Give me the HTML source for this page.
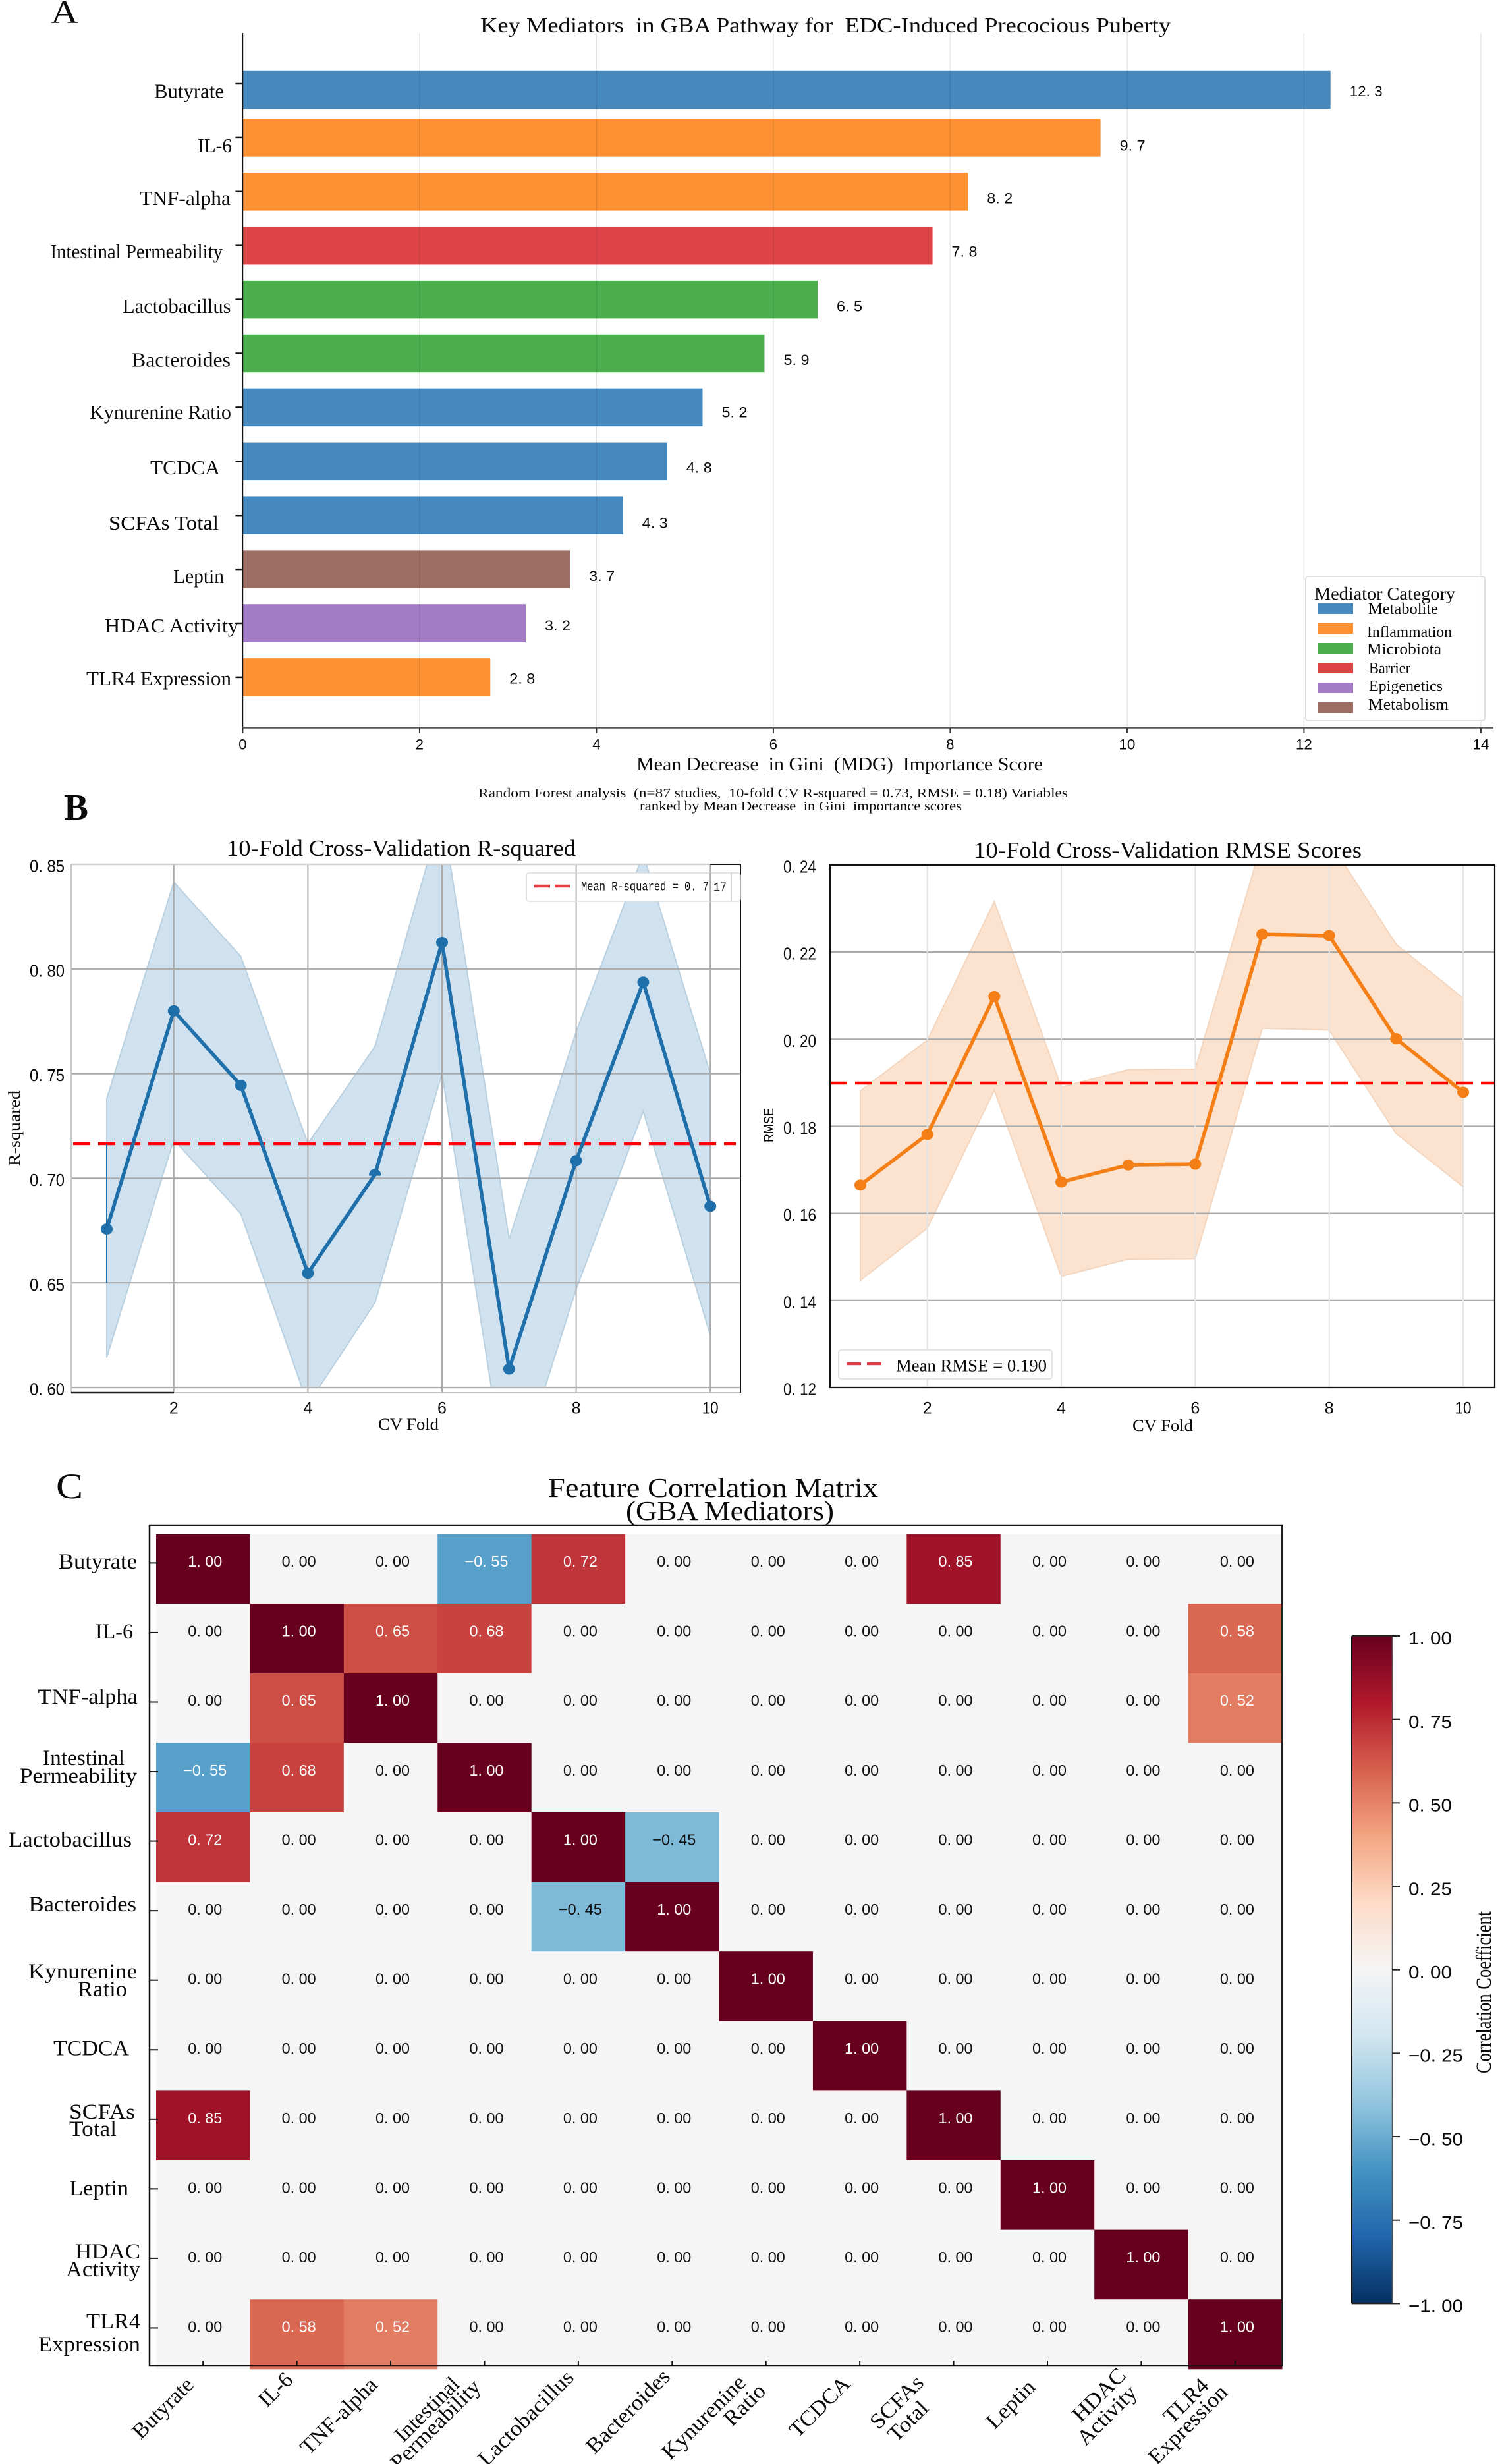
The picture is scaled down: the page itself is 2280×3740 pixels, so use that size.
<!DOCTYPE html>
<html lang="en">
<head>
<meta charset="utf-8">
<title>GBA Pathway Mediators Figure</title>
<style>
html,body{margin:0;padding:0;background:#fff;width:2280px;height:3740px;overflow:hidden}
svg{display:block}
text{white-space:pre;fill:#0a0a0a}
.s{font-family:"Liberation Serif","Noto Serif CJK SC",serif}
.a{font-family:"Liberation Sans","Noto Sans CJK SC",sans-serif}
.m{font-family:"Liberation Mono",monospace}
</style>
</head>
<body>
<svg id="fig" xmlns="http://www.w3.org/2000/svg" width="2280" height="3740" viewBox="0 0 2280 3740">
  <defs id="defs">
    <clipPath id="clip-r2"><rect x="108" y="1312" width="1016" height="794"/></clipPath>
    <clipPath id="clip-rmse"><rect x="1260" y="1313" width="1009" height="793"/></clipPath>
    <linearGradient id="cbar-gradient" x1="0" y1="1" x2="0" y2="0"></linearGradient>
  </defs>

  <!-- Panel letters and titles -->
  <text class="s" x="77" y="35" font-size="50" textLength="42" lengthAdjust="spacingAndGlyphs">A</text>
  <text class="s" x="97" y="1244" font-size="56" font-weight="bold" textLength="37" lengthAdjust="spacingAndGlyphs">B</text>
  <text class="s" x="85" y="2274" font-size="54" textLength="41" lengthAdjust="spacingAndGlyphs">C</text>

  <text class="s" x="729" y="49" font-size="32" textLength="1048" lengthAdjust="spacingAndGlyphs">Key Mediators  in GBA Pathway for  EDC-Induced Precocious Puberty</text>
  <text class="s" x="966" y="1169" font-size="28" textLength="617" lengthAdjust="spacingAndGlyphs">Mean Decrease  in Gini  (MDG)  Importance Score</text>
  <text class="s" x="726" y="1210" font-size="20" textLength="895" lengthAdjust="spacingAndGlyphs">Random Forest analysis  (n=87 studies,  10-fold CV R-squared = 0.73, RMSE = 0.18) Variables</text>
  <text class="s" x="971" y="1230" font-size="20" textLength="489" lengthAdjust="spacingAndGlyphs">ranked by Mean Decrease  in Gini  importance scores</text>

  <text class="s" x="344" y="1299" font-size="35" textLength="530" lengthAdjust="spacingAndGlyphs">10-Fold Cross-Validation R-squared</text>
  <text class="s" x="574" y="2170" font-size="25" textLength="92" lengthAdjust="spacingAndGlyphs">CV Fold</text>
  <text class="s" transform="rotate(-90 30 1770)" x="30" y="1770" font-size="25" textLength="115" lengthAdjust="spacingAndGlyphs">R-squared</text>

  <text class="s" x="1478" y="1302" font-size="35" textLength="589" lengthAdjust="spacingAndGlyphs">10-Fold Cross-Validation RMSE Scores</text>
  <text class="s" x="1719" y="2172" font-size="25" textLength="92" lengthAdjust="spacingAndGlyphs">CV Fold</text>
  <text class="a" transform="rotate(-90 1174 1734)" x="1174" y="1734" font-size="21" textLength="52" lengthAdjust="spacingAndGlyphs">RMSE</text>

  <text class="s" x="832" y="2272" font-size="41" textLength="501" lengthAdjust="spacingAndGlyphs">Feature Correlation Matrix</text>
  <text class="s" x="950" y="2307" font-size="41" textLength="316" lengthAdjust="spacingAndGlyphs">(GBA Mediators)</text>
  <text class="s" transform="rotate(-90 2263 3147)" x="2263" y="3147" font-size="33" textLength="246" lengthAdjust="spacingAndGlyphs">Correlation Coefficient</text>

  <g id="panel-a"></g>
  <g id="legend-a">
    <rect x="1982" y="875" width="272" height="219" rx="4" fill="#fff" fill-opacity=".85" stroke="#ddd" stroke-width="2"/>
    <text class="s" x="1995" y="910" font-size="27" textLength="214" lengthAdjust="spacingAndGlyphs">Mediator Category</text>
    <rect x="2000" y="916" width="54" height="16" fill="#4689bf"/>
    <text class="s" x="2077" y="932" font-size="24" textLength="106" lengthAdjust="spacingAndGlyphs">Metabolite</text>
    <rect x="2000" y="946" width="54" height="16" fill="#fe9133"/>
    <text class="s" x="2075" y="967" font-size="24" textLength="129" lengthAdjust="spacingAndGlyphs">Inflammation</text>
    <rect x="2000" y="976" width="54" height="16" fill="#4cae4f"/>
    <text class="s" x="2075" y="993" font-size="24" textLength="113" lengthAdjust="spacingAndGlyphs">Microbiota</text>
    <rect x="2000" y="1006" width="54" height="16" fill="#dc4448"/>
    <text class="s" x="2078" y="1022" font-size="24" textLength="63" lengthAdjust="spacingAndGlyphs">Barrier</text>
    <rect x="2000" y="1036" width="54" height="16" fill="#a37cc5"/>
    <text class="s" x="2078" y="1049" font-size="24" textLength="112" lengthAdjust="spacingAndGlyphs">Epigenetics</text>
    <rect x="2000" y="1066" width="54" height="16" fill="#9d6e64"/>
    <text class="s" x="2077" y="1077" font-size="24" textLength="122" lengthAdjust="spacingAndGlyphs">Metabolism</text>
  </g>

  <g id="panel-r2"></g>
  <g id="panel-rmse"></g>
  <g id="panel-heat"></g>
  <g id="panel-cbar"></g>
</svg>

<script>
/* ---------- Panel A data ---------- */
const aCategories = ["Butyrate","IL-6","TNF-alpha","Intestinal Permeability","Lactobacillus","Bacteroides","Kynurenine Ratio","TCDCA","SCFAs Total","Leptin","HDAC Activity","TLR4 Expression"];
const aValues = [12.3,9.7,8.2,7.8,6.5,5.9,5.2,4.8,4.3,3.7,3.2,2.8];
const aGroups = ["Metabolite","Inflammation","Inflammation","Barrier","Microbiota","Microbiota","Metabolite","Metabolite","Metabolite","Metabolism","Epigenetics","Inflammation"];
const aXTicks = [0,2,4,6,8,10,12,14];

/* ---------- Panel B data ---------- */
const folds = [1,2,3,4,5,6,7,8,9,10];
const r2Mean = [0.6757,0.78,0.7444,0.6546,0.7018,0.8127,0.6088,0.7084,0.7937,0.6866];
const r2Upper = [0.738,0.8415,0.806,0.7165,0.763,0.875,0.671,0.77,0.855,0.75];
const r2Lower = [0.6143,0.7185,0.683,0.592,0.6405,0.75,0.546,0.647,0.732,0.625];
const r2MeanLine = 0.7165;
const r2YTicks = [0.60,0.65,0.70,0.75,0.80,0.85];
const rmseMean = [0.1665,0.1781,0.2098,0.1672,0.1711,0.1713,0.2241,0.2238,0.2001,0.1878];
const rmseUpper = [0.1881,0.1998,0.2316,0.189,0.193,0.1931,0.2455,0.2455,0.2218,0.2094];
const rmseLower = [0.1446,0.1566,0.1883,0.1455,0.1495,0.1496,0.2025,0.2021,0.1783,0.1661];
const rmseMeanLine = 0.1899;
const rmseYTicks = [0.12,0.14,0.16,0.18,0.20,0.22,0.24];
const foldTicks = [2,4,6,8,10];

/* ---------- Panel C data ---------- */
const heatRows = ["Butyrate","IL-6","TNF-alpha","Intestinal Permeability","Lactobacillus","Bacteroides","Kynurenine Ratio","TCDCA","SCFAs Total","Leptin","HDAC Activity","TLR4 Expression"];
const heatValues = [
  [1,0,0,-0.55,0.72,0,0,0,0.85,0,0,0],
  [0,1,0.65,0.68,0,0,0,0,0,0,0,0.58],
  [0,0.65,1,0,0,0,0,0,0,0,0,0.52],
  [-0.55,0.68,0,1,0,0,0,0,0,0,0,0],
  [0.72,0,0,0,1,-0.45,0,0,0,0,0,0],
  [0,0,0,0,-0.45,1,0,0,0,0,0,0],
  [0,0,0,0,0,0,1,0,0,0,0,0],
  [0,0,0,0,0,0,0,1,0,0,0,0],
  [0.85,0,0,0,0,0,0,0,1,0,0,0],
  [0,0,0,0,0,0,0,0,0,1,0,0],
  [0,0,0,0,0,0,0,0,0,0,1,0],
  [0,0.58,0.52,0,0,0,0,0,0,0,0,1]
];
const cbarTicks = [-1,-0.75,-0.5,-0.25,0,0.25,0.5,0.75,1];
const cmapValues = [-1,-0.8,-0.6,-0.4,-0.2,0,0.2,0.4,0.6,0.8,1];
const cmapColors = ["#053061","#2166ac","#4393c3","#92c5de","#d1e5f0","#f5f5f5","#fddbc7","#f4a582","#d6604d","#b2182b","#67001f"];

/* ---------- Label placement (text only, not marks) ---------- */
const groupFill = {Metabolite:"#4689bf",Inflammation:"#fe9133",Microbiota:"#4cae4f",Barrier:"#dc4448",Epigenetics:"#a37cc5",Metabolism:"#9d6e64"};
const aLabelBox = [[234,340,138.5],[300,352,221],[212,350,301],[76.5,338,382],[186,350.5,465],[200,350,546.5],[136,351,626],[228,334,710],[165,332,794],[263,340,874.6],[159,362,949.6],[131,351,1030]];
const heatRowLabelBox = [
  [[89,208,2370]],[[145,202,2476]],[[57.5,209,2575]],
  [[65,189,2668],[30,208,2695]],[[13,200,2792]],[[43.5,207,2890]],
  [[43,208,2992],[118,193,3019]],[[81,196,3108.5]],
  [[105,205,3205],[105,177,3231]],[[105,195,3321]],
  [[114,213,3417],[100,213,3444]],[[131,213,3523],[58,213,3558]]
];
const heatColLabelBox = [
  [[247,3655,116]],[[418,3627,58]],[[514,3667,150]],
  [[648,3657,124],[661,3680,178]],[[798,3670,190]],[[953,3660,165]],
  [[1068,3669,165],[1130,3650,75]],[[1244,3653,115]],
  [[1361,3646,100],[1378,3675,72]],[[1534,3649,90]],
  [[1668,3635,100],[1680,3666,113]],[[1800,3644,82],[1803,3680,155]]
];

/* ---------- Helpers ---------- */
const NS = "http://www.w3.org/2000/svg";
function mk(tag, attrs, parent){
  const n = document.createElementNS(NS, tag);
  for (const k in attrs) n.setAttribute(k, attrs[k]);
  parent.appendChild(n);
  return n;
}
function line(parent, name, x1, y1, x2, y2, stroke, w, extra){
  const el = mk("line", Object.assign({x1:x1,y1:y1,x2:x2,y2:y2,stroke:stroke,"stroke-width":w}, extra||{}), parent);
  
  
  return el;
}
function label(parent, name, str, x, cy, size, cls, width, opts){
  const o = opts || {};
  const attrs = {x:x, y:cy + size*0.33, "font-size":size, class:cls};
  if (width){ attrs.textLength = width; attrs.lengthAdjust = "spacingAndGlyphs"; }
  if (o.anchor) attrs["text-anchor"] = o.anchor;
  if (o.fill) attrs.style = "fill:" + o.fill;
  if (o.rotate !== undefined){
    attrs.transform = "rotate(" + o.rotate + " " + x + " " + cy + ")";
  }
  const el = mk("text", attrs, parent);
  
  
  el.textContent = str;
  return el;
}
function fmt(v, digits){
  const s = Math.abs(v).toFixed(digits).replace(".", ". ");
  return (v < 0 ? "\u2212" : "") + s;
}
function hexRgb(h){ return [parseInt(h.slice(1,3),16),parseInt(h.slice(3,5),16),parseInt(h.slice(5,7),16)]; }
function cmap(v){
  for (let i = 0; i < cmapValues.length-1; i++){
    if (v <= cmapValues[i+1]){
      const t = (v-cmapValues[i])/(cmapValues[i+1]-cmapValues[i]);
      const a = hexRgb(cmapColors[i]), b = hexRgb(cmapColors[i+1]);
      return "rgb(" + a.map((c,j)=>Math.round(c+(b[j]-c)*t)).join(",") + ")";
    }
  }
  return cmapColors[cmapColors.length-1];
}

/* ---------- Panel A ---------- */
(function(){
  const g = document.getElementById("panel-a");
  const xA = v => 368.4 + 134.25*v;
  const yA = i => 127 + 81.9*i;
  const barH = 57.5;
  aValues.forEach((v,i)=>{
    const nudge = i === 0 ? 9.5 : 0;
    const bar = mk("rect",{x:xA(0),y:yA(i)-barH/2+nudge,width:xA(v)-xA(0),height:barH,fill:groupFill[aGroups[i]]},g);
    
    
    const box = aLabelBox[i];
    label(g,'value-label-' + (i+1),fmt(v,1),xA(v)+29,box[2],22,"a",i===0?50:39);
    label(g,'category-label-' + (i+1),aCategories[i],box[0],box[2],31,"s",box[1]-box[0]);
    line(g,'y-tick-' + (i+1),xA(0)-11,yA(i),xA(0),yA(i),"#111",2.5);
  });
  aXTicks.forEach(t=>{
    if (t > 0) line(g,'x-gridline-' + t,xA(t),50,xA(t),1104,"#000",1.5,{"stroke-opacity":".1"});
    line(g,'x-tick-' + t,xA(t),1104,xA(t),1113,"#333",2);
    label(g,'x-tick-label-' + t,String(t),xA(t),1130,22,"a",t>=10?25:0,{anchor:"middle"});
  });
  line(g,'y-axis-line',xA(0),50,xA(0),1105,"#111",1.6);
  line(g,'x-axis-line',xA(0),1104.5,2267,1104.5,"#555",2.5);
})();

/* ---------- Panel B helper ---------- */
function drawLinePanel(cfg){
  const g = cfg.g, x = cfg.x, y = cfg.y;
  const pts = cfg.upper.map((v,i)=>x(folds[i])+","+y(v));
  const low = cfg.lower.map((v,i)=>x(folds[i])+","+y(v)).reverse();
  const band = mk("polygon",{points:pts.concat(low).join(" "),fill:cfg.bandFill,stroke:cfg.bandEdge,"stroke-width":2,"clip-path":"url(#"+cfg.clip+")"},g);
  
  
  cfg.yTicks.forEach(t=>{
    line(g,cfg.prefix + '-h-grid-' + t.toFixed(2),cfg.left,y(t),cfg.right,y(t),"#aaaaaa",2.2);
    label(g,cfg.prefix + '-y-tick-label-' + t.toFixed(2),fmt(t,2),cfg.tickX,y(t)+3,26,"a",cfg.tickW);
  });
  foldTicks.forEach(t=>{
    line(g,cfg.prefix + '-v-grid-' + t,x(t),cfg.top,x(t),cfg.bottom,cfg.vGrid,cfg.vGridW);
    label(g,cfg.prefix + '-x-tick-label-' + t,String(t),x(t),2137,25,"a",t===10?25:0,{anchor:"middle"});
  });
  const mean = mk("line",{x1:cfg.meanX1,x2:cfg.meanX2,y1:y(cfg.meanLine),y2:y(cfg.meanLine),stroke:"#f00","stroke-width":4.5,"stroke-dasharray":"26 12"},g);
  
  
  const path = mk("polyline",{points:cfg.mean.map((v,i)=>x(folds[i])+","+y(v)).join(" "),fill:"none",stroke:cfg.color,"stroke-width":5.5,"stroke-linejoin":"round"},g);
  
  
  cfg.mean.forEach((v,i)=>{
    const c = mk("ellipse",{cx:x(folds[i]),cy:y(v),rx:9,ry:8.5,fill:cfg.color},g);
    
    
    if (folds[i] === cfg.clippedFold){
      const cp = mk("clipPath",{id:cfg.prefix + "-clipped-point"},document.getElementById("defs"));
      mk("rect",{x:x(folds[i])-12,y:y(v)-10,width:24,height:12},cp);
      c.setAttribute("clip-path","url(#" + cfg.prefix + "-clipped-point)");
    }
  });
}

/* ---------- Panel B left ---------- */
(function(){
  const g = document.getElementById("panel-r2");
  const x = f => 162 + 101.8*(f-1);
  const y = v => 2106 - (v-0.6)*3176;
  drawLinePanel({g:g,x:x,y:y,prefix:"r2",left:108,right:1124,top:1312,bottom:2114,
    upper:r2Upper,lower:r2Lower,mean:r2Mean,meanLine:r2MeanLine,yTicks:r2YTicks,
    color:"#1f6fab",bandFill:"#d0e2ef",bandEdge:"#b9d0e0",clip:"clip-r2",clippedFold:5,
    vGrid:"#aaaaaa",vGridW:2,tickX:45,tickW:53,meanX1:111,meanX2:1117});
  line(g,'r2-left-spine',108,1312,108,2114,"#c8c8c8",2);
  line(g,'r2-top-spine',108,1312,1078,1312,"#cfcfcf",2);
  line(g,'r2-top-spine-dark',1078,1312,1124,1312,"#111",2);
  line(g,'r2-bottom-spine-dark',108,2114,264,2114,"#222",2.5);
  line(g,'r2-bottom-spine',264,2114,1124,2114,"#c4c4c4",2);
  line(g,'r2-right-spine',1124,1312,1124,2114,"#111",2);
  line(g,'r2-fold-1-whisker',x(1),y(r2MeanLine),x(1),y(0.65),"#1f6fab",2);
  const box = mk("rect",{x:799,y:1325,width:325,height:43,rx:4,fill:"#fff",stroke:"#dcdcdc","stroke-width":1.5},g);
  
  
  line(g,'r2-legend-grid-8',x(8),1325,x(8),1368,"#aaaaaa",2);
  line(g,'r2-legend-grid-10',x(10),1325,x(10),1368,"#aaaaaa",2);
  line(g,'r2-legend-inner-edge',1110,1325,1110,1368,"#c8c8c8",1.5);
  line(g,'r2-legend-swatch',811,1345,865,1345,"#e0404a",4.5,{"stroke-dasharray":"24 7"});
  label(g,'r2-legend-label',"Mean R-squared = 0. 7",882,1345,19,"m",194);
  label(g,'r2-legend-label-end',"17",1083,1346,19,"m",20);
})();

/* ---------- Panel B right ---------- */
(function(){
  const g = document.getElementById("panel-rmse");
  const x = f => 1306 + 101.67*(f-1);
  const y = v => 1313 + (0.24-v)*6608;
  drawLinePanel({g:g,x:x,y:y,prefix:"rmse",left:1260,right:2269,top:1313,bottom:2106,
    upper:rmseUpper,lower:rmseLower,mean:rmseMean,meanLine:rmseMeanLine,yTicks:rmseYTicks,
    color:"#f47f17",bandFill:"#fce3d0",bandEdge:"#f3d6bf",clip:"clip-rmse",
    vGrid:"#e4e4e4",vGridW:2,tickX:1189,tickW:50,meanX1:1260,meanX2:2269});
  const frame = mk("rect",{x:1260,y:1313,width:1009,height:793,fill:"none",stroke:"#111","stroke-width":2.2},g);
  
  
  const box = mk("rect",{x:1273,y:2049,width:324,height:44,rx:4,fill:"#fff",stroke:"#dcdcdc","stroke-width":1.5},g);
  
  
  line(g,'rmse-legend-swatch',1285,2070,1339,2070,"#e0404a",4.5,{"stroke-dasharray":"22 9"});
  label(g,'rmse-legend-label',"Mean RMSE = 0.190",1360,2073,26,"s",229);
})();

/* ---------- Panel C heatmap ---------- */
(function(){
  const g = document.getElementById("panel-heat");
  const cellW = 142.42, cellH = 105.6;
  const xH = c => 237 + cellW*c;
  const yH = r => 2328.6 + cellH*r;
  const frame = mk("rect",{x:227,y:2315,width:1719,height:1276,fill:"#fff",stroke:"none"},g);
  
  
  heatValues.forEach((row,r)=>row.forEach((v,c)=>{
    const cell = mk("rect",{x:xH(c),y:yH(r),width:cellW+0.5,height:cellH+0.5,fill:cmap(v)},g);
    
    
  }));
  heatValues.forEach((row,r)=>row.forEach((v,c)=>{
    const w = v < 0 ? 66 : 52;
    label(g,'heat-value-r' + r + '-c' + c,fmt(v,2),xH(c)+cellW/2+3,yH(r)+cellH/2-11,23,"a",w,{anchor:"middle",fill:Math.abs(v)>0.5?"#fff":"#111"});
  }));
  line(g,'heatmap-left-spine',227,2314,227,3592,"#111",2.5);
  line(g,'heatmap-top-spine',226,2315,1947,2315,"#111",2.5);
  line(g,'heatmap-right-spine',1946,2315,1946,3592,"#222",2);
  line(g,'heatmap-bottom-spine',226,3591,1947,3591,"#111",2.5);
  heatRows.forEach((name,i)=>{
    const ty = 2372.4 + 105.55*i;
    line(g,'heatmap-y-tick-' + (i+1),227,ty,240,ty,"#111",2);
    const tx = xH(i)+cellW/2;
    line(g,'heatmap-x-tick-' + (i+1),tx,3583,tx,3591,"#111",2);
    const parts = name.split(" ");
    heatRowLabelBox[i].forEach((b,k)=>{
      label(g,'heatmap-row-label-' + (i+1) + '-' + (k+1),parts[k],b[0],b[2],33,"s",b[1]-b[0]);
    });
    heatColLabelBox[i].forEach((b,k)=>{
      label(g,'heatmap-col-label-' + (i+1) + '-' + (k+1),parts[k],b[0],b[1],33,"s",b[2],{anchor:"middle",rotate:-45});
    });
  });
})();

/* ---------- Colorbar ---------- */
(function(){
  const g = document.getElementById("panel-cbar");
  const grad = document.getElementById("cbar-gradient");
  cmapValues.forEach((v,i)=>mk("stop",{offset:((v+1)/2*100)+"%","stop-color":cmapColors[i]},grad));
  const yC = v => 2989.7 - v*506.7;
  const r = mk("rect",{x:2052,y:yC(1),width:61.5,height:yC(-1)-yC(1),fill:"url(#cbar-gradient)"},g);
  
  
  line(g,'colorbar-left-edge',2052,yC(1),2052,yC(-1),"#111",2);
  line(g,'colorbar-right-edge',2113.5,yC(1),2113.5,yC(-1),"#555",1.5);
  line(g,'colorbar-top-edge',2052,yC(1),2113.5,yC(1),"#222",2);
  line(g,'colorbar-bottom-edge',2052,yC(-1),2113.5,yC(-1),"#222",2);
  cbarTicks.forEach(t=>{
    line(g,'colorbar-tick-' + t,2113.5,yC(t),2125,yC(t),"#222",2);
    label(g,'colorbar-tick-label-' + t,fmt(t,2),2138,yC(t)+4,28,"a",t<0?83:66);
  });
})();
</script>
</body>
</html>
